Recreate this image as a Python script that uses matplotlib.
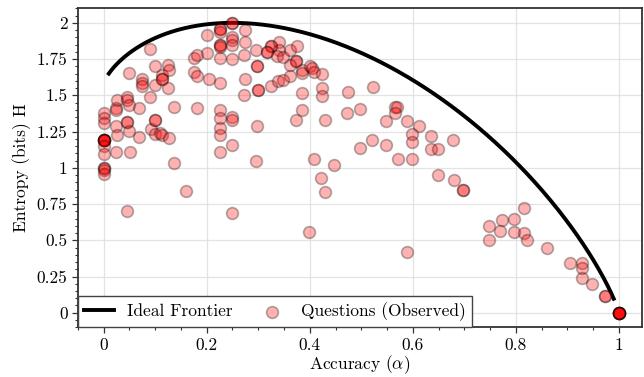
import numpy as np
import matplotlib
matplotlib.use("Agg")
import matplotlib.pyplot as plt
from matplotlib.ticker import MultipleLocator, FuncFormatter

plt.rcParams['font.family'] = ['cmr10', 'DejaVu Serif']
plt.rcParams['mathtext.fontset'] = 'cm'
plt.rcParams['axes.formatter.use_mathtext'] = True

# Observed questions: (accuracy, entropy)
accuracy = [
    0, 0, 0, 0, 0, 0, 0, 0, 0, 0, 0, 0, 0, 0, 0,
    0.025, 0.023, 0.023, 0.023, 0.025, 0.023,
    0.046, 0.046, 0.049, 0.046, 0.046, 0.049, 0.051, 0.049, 0.046,
    0.068, 0.068,
    0.074, 0.074, 0.074,
    0.09, 0.09, 0.091,
    0.099, 0.099, 0.099, 0.099, 0.099,
    0.11, 0.114, 0.114, 0.114, 0.114,
    0.125, 0.127, 0.125, 0.127,
    0.136, 0.136, 0.159,
    0.175, 0.181, 0.175, 0.181, 0.181,
    0.2, 0.2, 0.204,
    0.225, 0.225, 0.225, 0.225, 0.225, 0.225, 0.225, 0.225, 0.225, 0.225, 0.225, 0.225, 0.225,
    0.249, 0.249, 0.249, 0.249, 0.249, 0.249, 0.249, 0.249, 0.249, 0.249,
    0.274, 0.274, 0.272, 0.274, 0.272,
    0.295, 0.298, 0.298, 0.299, 0.299, 0.298, 0.295,
    0.324, 0.324, 0.317, 0.317, 0.324, 0.339, 0.34, 0.34, 0.336, 0.349, 0.349,
    0.362, 0.375, 0.374, 0.374, 0.362, 0.362,
    0.385, 0.385, 0.385, 0.385, 0.374,
    0.4, 0.404, 0.408, 0.424, 0.424, 0.424, 0.43, 0.408, 0.448, 0.422, 0.43, 0.399,
    0.475, 0.523, 0.472, 0.497, 0.498, 0.521,
    0.566, 0.57, 0.566, 0.548, 0.548, 0.572, 0.598,
    0.589, 0.612, 0.598, 0.598, 0.635, 0.635, 0.649, 0.678, 0.589,
    0.649, 0.679, 0.697, 0.697,
    0.816, 0.773, 0.797, 0.748, 0.769, 0.797, 0.816, 0.822, 0.748, 0.861,
    0.906, 0.929, 0.929, 0.929, 0.947, 0.974, 0.974,
    1.0, 1.0, 1.0, 1.0, 1.0, 1.0, 1.0, 1.0,
]
entropy = [
    1.38, 1.345, 1.306, 1.19, 1.19, 1.19, 1.19, 1.19, 1.19, 1.15, 1.093, 1.0, 1.0, 0.985, 0.955,
    1.47, 1.41, 1.40, 1.29, 1.223, 1.109,
    1.49, 1.47, 1.436, 1.315, 1.315, 1.253, 1.109, 1.654, 0.70,
    1.41, 1.21,
    1.61, 1.585, 1.565,
    1.82, 1.49, 1.265,
    1.70, 1.574, 1.333, 1.333, 1.23,
    1.24, 1.643, 1.613, 1.613, 1.223,
    1.711, 1.672, 1.55, 1.207,
    1.42, 1.03, 0.84,
    1.757, 1.78, 1.66, 1.63, 1.41,
    1.917, 1.79, 1.61,
    1.957, 1.957, 1.94, 1.85, 1.85, 1.83, 1.76, 1.585, 1.40, 1.345, 1.276, 1.223, 1.11,
    2.00, 2.00, 1.90, 1.88, 1.85, 1.75, 1.35, 1.33, 1.16, 0.685,
    1.95, 1.87, 1.78, 1.61, 1.505,
    1.81, 1.70, 1.70, 1.54, 1.54, 1.287, 1.047,
    1.84, 1.84, 1.80, 1.80, 1.567, 1.60, 1.865, 1.81, 1.77, 1.764, 1.603,
    1.81, 1.84, 1.74, 1.74, 1.71, 1.63,
    1.677, 1.654, 1.517, 1.397, 1.33,
    1.70, 1.69, 1.66, 1.65, 1.55, 1.494, 1.33, 1.063, 1.02, 0.93, 0.83, 0.555,
    1.52, 1.56, 1.38, 1.407, 1.14, 1.19,
    1.42, 1.42, 1.38, 1.32, 1.157, 1.06, 1.063,
    1.32, 1.29, 1.23, 1.18, 1.22, 1.13, 1.127, 1.19, 0.42,
    0.95, 0.916, 0.848, 0.848,
    0.72, 0.64, 0.65, 0.596, 0.566, 0.555, 0.55, 0.50, 0.50, 0.45,
    0.344, 0.344, 0.307, 0.238, 0.195, 0.115, 0.115,
    0.0, 0.0, 0.0, 0.0, 0.0, 0.0, 0.0, 0.0,
]

# Ideal frontier: maximum entropy for accuracy alpha with K answer options
n_options = 4
alpha_range = (0.01, 0.99)

alpha = np.linspace(alpha_range[0], alpha_range[1], 400)
frontier = -alpha * np.log2(alpha) - (1 - alpha) * np.log2((1 - alpha) / (n_options - 1))

FS = 12.5

fig = plt.figure(figsize=(6.44, 3.77), dpi=100)
ax = fig.add_axes([0.121, 0.132, 0.876, 0.847])

ax.grid(True, which='major', color='#dddddd', linewidth=0.9, alpha=0.8)
ax.set_axisbelow(True)

ax.plot(alpha, frontier, color='black', linewidth=2.8, label='Ideal Frontier', zorder=3)
ax.scatter(accuracy, entropy, s=72, color='red', alpha=0.3, edgecolors='black',
           linewidths=1.2, label='Questions (Observed)', zorder=4)

ax.set_xlim(-0.05, 1.045)
ax.set_ylim(-0.1, 2.103)

ax.xaxis.set_major_locator(MultipleLocator(0.2))
ax.xaxis.set_minor_locator(MultipleLocator(0.05))
ax.yaxis.set_major_locator(MultipleLocator(0.25))
ax.yaxis.set_minor_locator(MultipleLocator(0.05))
fmt = FuncFormatter(lambda v, p: ('%g' % round(v, 4)))
ax.xaxis.set_major_formatter(fmt)
ax.yaxis.set_major_formatter(fmt)

ax.tick_params(axis='both', which='major', direction='out', length=4.5, width=0.9,
               labelsize=FS, color='#333333', pad=3)
ax.tick_params(axis='both', which='minor', direction='out', length=2.5, width=0.8,
               color='#333333')

for sp in ax.spines.values():
    sp.set_color('#333333')
    sp.set_linewidth(1.3)

ax.set_xlabel(r'Accuracy ($\alpha$)', fontsize=FS, labelpad=0)
ax.set_ylabel('Entropy (bits) H', fontsize=FS, labelpad=4)

leg = ax.legend(loc='lower left', bbox_to_anchor=(0, 0), borderaxespad=0, ncol=2,
                fontsize=FS, fancybox=False, framealpha=1, edgecolor='#444444',
                handlelength=1.7, columnspacing=1.4, borderpad=0.35)
leg.get_frame().set_linewidth(1.0)

fig.savefig('out.png', dpi=100)
